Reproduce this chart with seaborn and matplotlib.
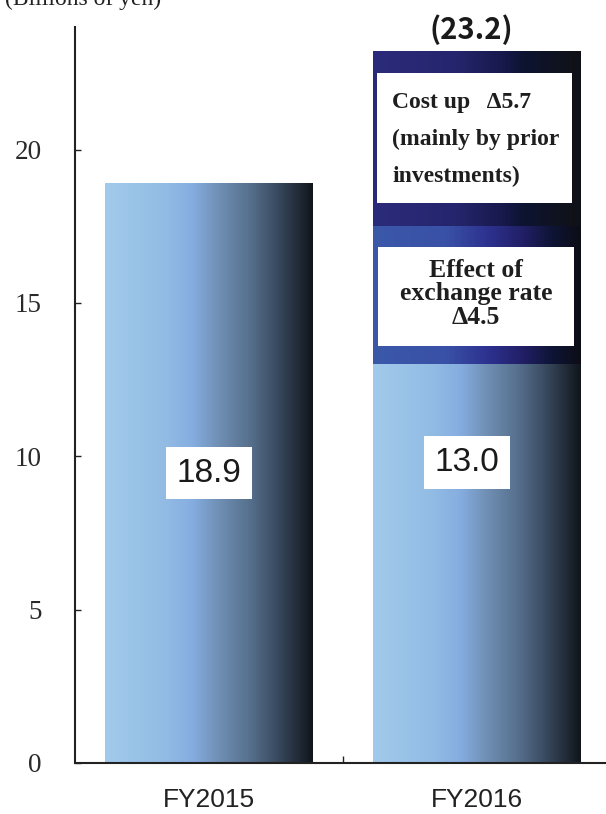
import numpy as np
import pandas as pd
import seaborn as sns
import matplotlib
matplotlib.use("Agg")
import matplotlib.pyplot as plt
from matplotlib.colors import LinearSegmentedColormap
from matplotlib.patches import Rectangle

# Operating cost breakdown (billions of yen)
years = ["FY2015", "FY2016"]
base_cost = [18.9, 13.0]
exchange_effect = [0.0, 4.5]
cost_up = [0.0, 5.7]
y_ticks = [0, 5, 10, 15, 20]

sns.set_theme(style="white")
plt.rcParams["font.family"] = ["Liberation Sans", "DejaVu Sans"]

base_arr = np.array(base_cost)
level_exchange = base_arr + np.array(exchange_effect)
level_total = level_exchange + np.array(cost_up)

cmap_base = LinearSegmentedColormap.from_list(
    "base", [(0, "#a2caeb"), (0.28, "#93bce5"), (0.42, "#86ade0"),
             (0.55, "#6f8fb3"), (0.7, "#566f8d"), (0.83, "#394a5f"),
             (1, "#11151c")])
cmap_exchange = LinearSegmentedColormap.from_list(
    "exchange", [(0, "#3b58a9"), (0.35, "#3951a6"), (0.55, "#2d3290"),
                 (0.72, "#221f66"), (0.86, "#0e1536"), (1, "#0d0d16")])
cmap_cost = LinearSegmentedColormap.from_list(
    "cost", [(0, "#2b2b7b"), (0.4, "#25256d"), (0.62, "#18194d"),
             (0.72, "#0c1431"), (1, "#111115")])

fig = plt.figure(figsize=(6.06, 8.14), dpi=100)
ax = fig.add_axes([75 / 606, 51 / 814, 536 / 606, 736 / 814])

BAR_W = 0.776
grad = np.linspace(0, 1, 256).reshape(1, -1)


def draw_layer(values, cmap, z):
    df = pd.DataFrame({"year": years, "value": values})
    before = len(ax.patches)
    sns.barplot(data=df, x="year", y="value", order=years, width=BAR_W,
                color="#000000", ax=ax, zorder=z)
    for p in ax.patches[before:]:
        h = p.get_height()
        p.set_visible(False)
        if h <= 0:
            continue
        x0 = p.get_x()
        ax.imshow(grad, cmap=cmap, aspect="auto", interpolation="bicubic",
                  extent=[x0, x0 + p.get_width(), p.get_y(), p.get_y() + h],
                  zorder=z)


# tallest layer first so each lower segment paints over it
draw_layer(np.where(np.array(cost_up) > 0, level_total, 0), cmap_cost, 2)
draw_layer(np.where(np.array(exchange_effect) > 0, level_exchange, 0), cmap_exchange, 3)
draw_layer(base_arr, cmap_base, 4)

ax.set_xlim(-0.5, 1.5)
ax.set_ylim(0, 24)
ax.set_xlabel("")
ax.set_ylabel("")

# axes styling
for side in ["top", "right"]:
    ax.spines[side].set_visible(False)
for side in ["left", "bottom"]:
    ax.spines[side].set_color("#222222")
    ax.spines[side].set_linewidth(1.5)
    ax.spines[side].set_zorder(6)

ax.set_yticks(y_ticks)
ax.set_yticklabels([str(t) for t in y_ticks], family="Liberation Serif",
                   fontsize=19.5, color="#2a2a2a")
ax.tick_params(axis="y", direction="in", length=4.5, width=1.0,
               color="#222222", pad=24, left=True)
ax.set_xticks([0, 1])
ax.set_xticklabels(years, fontsize=19, color="#222222")
ax.tick_params(axis="x", length=0, pad=18)
ax.set_xticks([0.5], minor=True)
ax.tick_params(axis="x", which="minor", direction="in", length=5,
               width=1.0, color="#222222", bottom=True)

# value labels on the base bars
base_label_y = [base_cost[0] / 2, 9.8]
base_label_x = [0, 0.962]
for x, y, v in zip(base_label_x, base_label_y, base_cost):
    ax.text(x, y, f"{v:.1f}", ha="center", va="center", fontsize=24,
            color="#1a1a1a", zorder=8,
            bbox=dict(boxstyle="square,pad=0.32", fc="white", ec="none"))

# total above FY2016
ax.annotate(f"({level_total[1]:.1f})", xy=(1, level_total[1]),
            xytext=(-4, 5), textcoords="offset points", ha="center",
            va="bottom", fontsize=21, fontweight="bold",
            family=["Noto Sans CJK JP", "DejaVu Sans"],
            color="#1a1a1a", annotation_clip=False, zorder=8)

# explanation boxes on the stacked segments
ax.add_patch(Rectangle((0.627, 18.25), 0.727, 4.24, fc="white", ec="none", zorder=7))
ax.text(0.683, 20.33,
        f"Cost up   Δ{cost_up[1]:.1f}\n(mainly by prior\ninvestments)",
        ha="left", va="center", fontsize=17, fontweight="bold",
        family="Liberation Serif", color="#1e1e1e", linespacing=2.0, zorder=8)

ax.add_patch(Rectangle((0.631, 13.59), 0.731, 3.23, fc="white", ec="none", zorder=7))
ax.text(0.996, 15.3,
        f"Effect of\nexchange rate\nΔ{exchange_effect[1]:.1f}",
        ha="center", va="center", fontsize=18.5, fontweight="bold",
        family="Liberation Serif", color="#1e1e1e", linespacing=1.02, zorder=8)

# unit caption (sits at the top edge)
fig.text(5 / 606, 1 - 5 / 814, "(Billions of yen)", ha="left", va="baseline",
         fontsize=17, family="Liberation Serif", color="#222222")

fig.savefig("out.png", dpi=100)
